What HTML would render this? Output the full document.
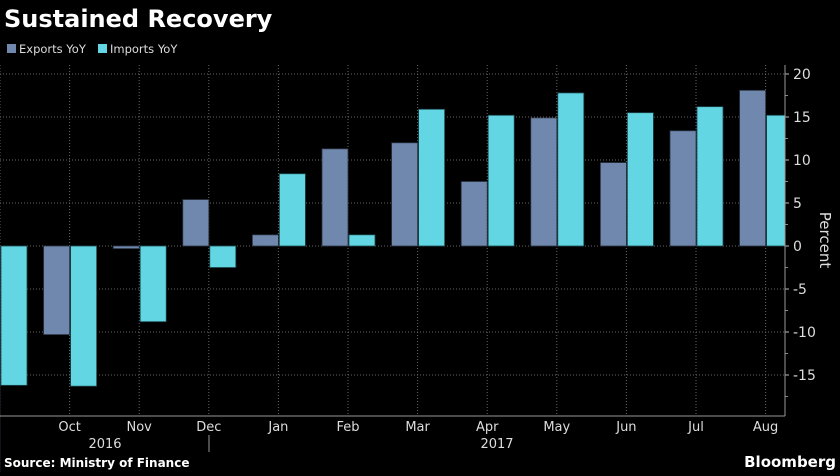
<!DOCTYPE html>
<html><head><meta charset="utf-8"><style>
body{margin:0;background:#000;width:840px;height:472px;overflow:hidden;font-family:"DejaVu Sans","Liberation Sans",sans-serif;}
</style></head><body>
<svg width="840" height="472" font-family="DejaVu Sans, Liberation Sans, sans-serif">
<text x="4" y="27" fill="#fff" font-size="24" font-weight="bold">Sustained Recovery</text>
<rect x="7" y="44" width="9" height="9" fill="#7088ad"/>
<text x="19" y="53" fill="#ddd" font-size="11.5">Exports YoY</text>
<rect x="98" y="44" width="9" height="9" fill="#62d7e3"/>
<text x="110" y="53" fill="#ddd" font-size="11.5">Imports YoY</text>
<g id="grid"></g><g id="bars"></g><g id="axis"></g>
<text x="4" y="467" fill="#fff" font-size="12" font-weight="bold">Source: Ministry of Finance</text>
<text x="836" y="467" text-anchor="end" fill="#fff" font-size="15" font-weight="bold">Bloomberg</text>
<text transform="translate(820,240) rotate(90)" text-anchor="middle" fill="#ddd" font-size="15">Percent</text>
</svg>
<script>
const months=["Sep","Oct","Nov","Dec","Jan","Feb","Mar","Apr","May","Jun","Jul","Aug"];
const exportsYoY=[-28,-10.3,-0.3,5.4,1.3,11.3,12.0,7.5,14.9,9.7,13.4,18.1];
const importsYoY=[-16.2,-16.3,-8.8,-2.5,8.4,1.3,15.9,15.2,17.8,15.5,16.2,15.2];
const yTicks=[20,15,10,5,0,-5,-10,-15];
const NS="http://www.w3.org/2000/svg";
const y0=246,ppu=8.6,axisX=785,step=69.6;
const y=v=>y0-v*ppu, x=i=>i*step;
function mk(t,a,p){const e=document.createElementNS(NS,t);for(const k in a)e.setAttribute(k,a[k]);p.appendChild(e);return e;}
const grid=document.getElementById('grid'),bars=document.getElementById('bars'),axis=document.getElementById('axis');
yTicks.forEach(v=>{
 const l=mk('line',{x1:0,x2:axisX,y1:y(v),y2:y(v),stroke:'#666','stroke-dasharray':'1,2'},grid);
 
 
 mk('line',{x1:axisX,x2:axisX+4,y1:y(v),y2:y(v),stroke:'#bbb'},axis);
 const t=mk('text',{x:axisX+8,y:y(v)+5,fill:'#ddd','font-size':14},axis);t.textContent=v;
 
 
});
for(let v=17.5;v>-20;v-=5){mk('line',{x1:axisX,x2:axisX+3,y1:y(v),y2:y(v),stroke:'#888'},axis);}
months.forEach((m,i)=>{
 const cx=x(i);
 const g=mk('line',{x1:cx,x2:cx,y1:65,y2:416,stroke:'#666','stroke-dasharray':'1,2'},grid);
 
 
 const e=exportsYoY[i],im=importsYoY[i];
 const be=mk('rect',{x:cx-26,y:Math.min(y(e),y0),width:26,height:Math.abs(y(e)-y0),fill:'#7088ad',stroke:'#2a3440','stroke-width':0.8},bars);
 
 
 const w=Math.min(26,axisX-cx-1);
 const bi=mk('rect',{x:cx+1,y:Math.min(y(im),y0),width:w,height:Math.abs(y(im)-y0),fill:'#62d7e3',stroke:'#1e4a50','stroke-width':0.8},bars);
 
 
 if(i>0){const t=mk('text',{x:cx,y:431,fill:'#ddd','font-size':13,'text-anchor':'middle'},axis);t.textContent=m;
 
 }
});
mk('line',{x1:0,x2:axisX,y1:416,y2:416,stroke:'#999'},axis);
mk('line',{x1:axisX,x2:axisX,y1:65,y2:416,stroke:'#999'},axis);
mk('line',{x1:209,x2:209,y1:435,y2:452,stroke:'#999'},axis);
const y1=mk('text',{x:105,y:448,fill:'#ddd','font-size':13,'text-anchor':'middle'},axis);y1.textContent='2016';


const y2=mk('text',{x:497,y:448,fill:'#ddd','font-size':13,'text-anchor':'middle'},axis);y2.textContent='2017';


</script>
</body></html>
